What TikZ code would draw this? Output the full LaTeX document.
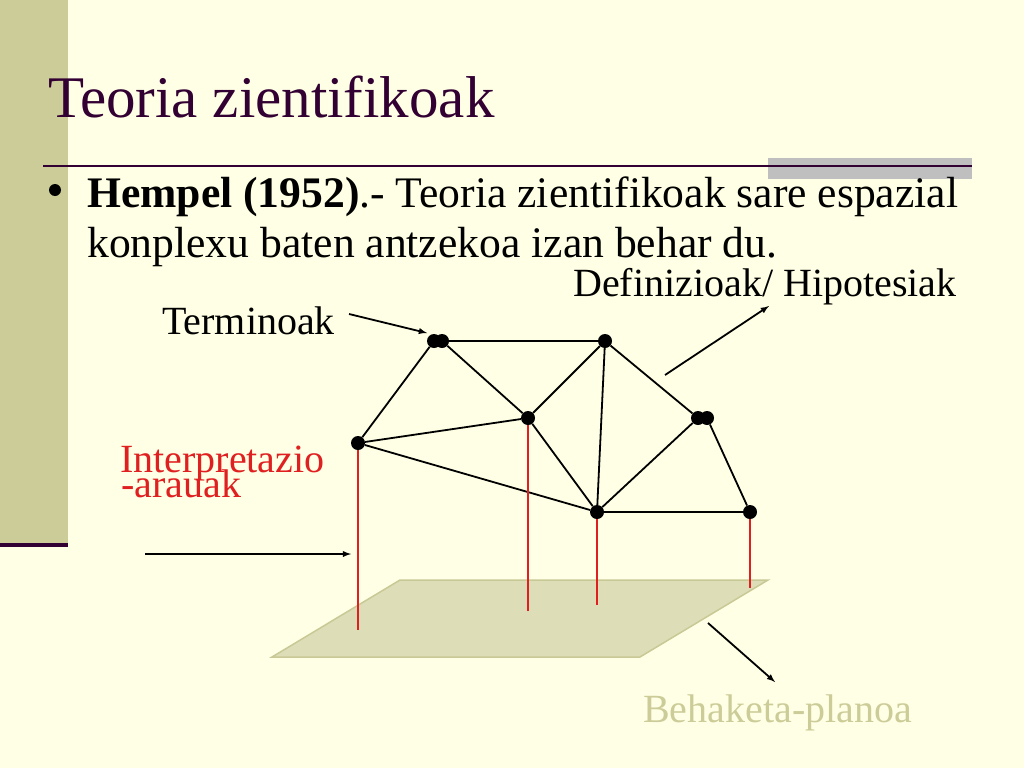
\documentclass[tikz,border=0pt]{standalone}
\usepackage{fontspec}
\setmainfont{Liberation Serif}
\definecolor{cream}{HTML}{FFFFE5}
\definecolor{olive}{HTML}{CCCC99}
\definecolor{plum}{HTML}{330033}
\definecolor{bargray}{HTML}{BFBFBF}
\definecolor{planefill}{HTML}{DDDDB8}
\definecolor{planeedge}{HTML}{C9C996}
\definecolor{rulered}{HTML}{E02020}
\begin{document}
\begin{tikzpicture}[x=1pt, y=-1pt,
    dot/.style={circle, fill=black, inner sep=0pt, minimum size=14pt},
    lbl/.style={anchor=base west, inner sep=0pt, font=\fontsize{40}{40}\selectfont},
    edge/.style={line width=1.8pt},
    pin/.style={line width=1.8pt, rulered},
    arr/.style={line width=1.8pt, -latex}]
  % slide background
  \fill[cream] (0,0) rectangle (1024,768);
  \useasboundingbox (0,0) rectangle (1024,768);
  \fill[olive] (0,0) rectangle (68,545);
  \draw[plum, line width=4pt] (0,545) -- (68,545);
  \fill[bargray] (768,158) rectangle (972,179);
  \draw[plum, line width=2.5pt] (43,166) -- (972,166);

  % title and text
  \node[anchor=base west, inner sep=0pt, text=plum, font=\fontsize{59}{59}\selectfont]
    (title) at (48,117) {Teoria zientifikoak};
  \fill (55,190) circle (6);
  \node[anchor=base west, inner sep=0pt, font=\fontsize{43.6}{50}\selectfont]
    (line1) at (87,207) {\textbf{Hempel (1952)}.- Teoria zientifikoak sare espazial};
  \node[anchor=base west, inner sep=0pt, font=\fontsize{43.6}{50}\selectfont]
    (line2) at (87,257) {konplexu baten antzekoa izan behar du.};

  % observation plane
  \filldraw[fill=planefill, draw=planeedge, line width=1.5pt]
    (400,580) -- (768,580) -- (640,657) -- (272,657) -- cycle;

  % network
  \node[dot] (A1) at (434,341) {};
  \node[dot] (A) at (442,341) {};
  \node[dot] (B) at (605,341) {};
  \node[dot] (C) at (358,443) {};
  \node[dot] (D) at (528,418) {};
  \node[dot] (E1) at (698,418) {};
  \node[dot] (E) at (707,418) {};
  \node[dot] (F) at (597,512) {};
  \node[dot] (G) at (750,512) {};

  \draw[edge] (A) -- (B);
  \draw[edge] (A1) -- (C);
  \draw[edge] (A) -- (D);
  \draw[edge] (C) -- (D);
  \draw[edge] (C) -- (F);
  \draw[edge] (D) -- (B);
  \draw[edge] (D) -- (F);
  \draw[edge] (B) -- (F);
  \draw[edge] (B) -- (E1);
  \draw[edge] (E1) -- (F);
  \draw[edge] (E) -- (G);
  \draw[edge] (F) -- (G);

  % interpretation rules down to the plane
  \coordinate (c0) at (358,630);
  \coordinate (d0) at (528,611);
  \coordinate (f0) at (597,605);
  \coordinate (g0) at (750,588);
  \draw[pin] (C) -- (c0);
  \draw[pin] (D) -- (d0);
  \draw[pin] (F) -- (f0);
  \draw[pin] (G) -- (g0);

  % labels
  \node[lbl] (defs) at (573,296) {Definizioak/ Hipotesiak};
  \node[lbl] (terms) at (162,334) {Terminoak};
  \node[lbl, text=rulered] (interp) at (120,472) {Interpretazio};
  \node[lbl, text=rulered] (rules) at (121,497) {-arauak};
  \node[lbl, text=olive] (plane) at (643,722) {Behaketa-planoa};

  % pointers
  \coordinate (t0) at (349,314);
  \coordinate (t1) at (427,333);
  \coordinate (h0) at (665,375);
  \coordinate (h1) at (769,306);
  \coordinate (i0) at (145,554);
  \coordinate (i1) at (351,554);
  \coordinate (p0) at (708,623);
  \coordinate (p1) at (775,682);
  \draw[arr] (t0) -- (t1);
  \draw[arr] (h0) -- (h1);
  \draw[arr] (i0) -- (i1);
  \draw[arr] (p0) -- (p1);
\end{tikzpicture}
\end{document}
